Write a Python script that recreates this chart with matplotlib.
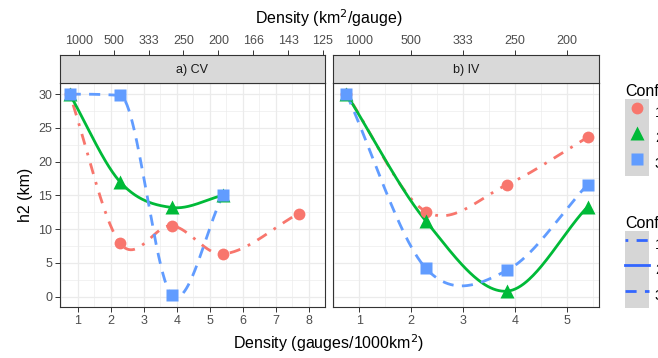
import matplotlib
matplotlib.use("Agg")
import matplotlib.pyplot as plt
import numpy as np
from matplotlib.lines import Line2D
from matplotlib.patches import Rectangle
from matplotlib.legend_handler import HandlerTuple

plt.rcParams['font.family'] = ['Liberation Sans', 'DejaVu Sans']

# densities (gauges/1000km2)
density = [0.75, 2.28, 3.85, 5.40, 7.70]

# a) CV
cv_conf1 = [30.0, 7.9, 10.5, 6.3, 12.3]
cv_conf2 = [30.0, 17.0, 13.2, 15.0]
cv_conf3 = [30.0, 29.8, 0.2, 15.0]

# b) IV
iv_conf1 = [30.0, 12.6, 16.6, 23.6]
iv_conf2 = [30.0, 11.2, 0.8, 13.3]
iv_conf3 = [30.0, 4.2, 3.9, 16.6]

top_labels = ['1000', '500', '333', '250', '200', '166', '143', '125']
conf_names = ['1', '2', '3']

colors = ['#F8766D', '#00BA38', '#619CFF']
markers = ['o', '^', 's']
msizes = [8.5, 10, 9]
lstyles = [(0, (1, 3, 4, 3)), '-', (0, (4, 3))]
W, H = 658, 358


def smooth(x, y, n=60):
    # cubic hermite through the points, catmull-rom style tangents
    x = np.asarray(x, float)
    y = np.asarray(y, float)
    k = len(x)
    d = np.diff(y) / np.diff(x)
    m = np.empty(k)
    m[0], m[-1] = d[0], d[-1]
    for i in range(1, k - 1):
        m[i] = (y[i + 1] - y[i - 1]) / (x[i + 1] - x[i - 1])
    for i in range(k - 1):
        if d[i] == 0:
            continue
        a, b = m[i] / d[i], m[i + 1] / d[i]
        if a > 0 and b > 0 and a * a + b * b > 9:
            t = 3 / np.sqrt(a * a + b * b)
            m[i], m[i + 1] = t * a * d[i], t * b * d[i]
    xs, ys = [], []
    for i in range(k - 1):
        h = x[i + 1] - x[i]
        t = np.linspace(0, 1, n)
        h00 = 2 * t**3 - 3 * t**2 + 1
        h10 = t**3 - 2 * t**2 + t
        h01 = -2 * t**3 + 3 * t**2
        h11 = t**3 - t**2
        xs.append(x[i] + t * h)
        ys.append(h00 * y[i] + h10 * h * m[i] + h01 * y[i + 1] + h11 * h * m[i + 1])
    return np.concatenate(xs), np.concatenate(ys)


def px(l, t, r, b):
    return [l / W, 1 - b / H, (r - l) / W, (b - t) / H]


def panel(rect, strip_rect, series, xlim, nticks, title):
    ax = fig.add_axes(px(*rect))
    st = fig.add_axes(px(*strip_rect))
    ax.set_xlim(*xlim)
    ax.set_ylim(-1.55, 31.65)
    ax.set_xticks(range(1, nticks + 1))
    ax.set_xticks(np.arange(0.5, nticks + 1, 1.0), minor=True)
    ax.set_yticks(range(0, 31, 5))
    ax.set_yticks(np.arange(2.5, 31, 5), minor=True)
    ax.grid(which='major', color='#EBEBEB', lw=0.9)
    ax.grid(which='minor', color='#EBEBEB', lw=0.45)
    ax.set_axisbelow(True)
    ax.tick_params(which='major', length=3.5, width=0.7, color='#333333',
                   labelsize=9, labelcolor='#4D4D4D', pad=2)
    ax.tick_params(which='minor', length=0)
    for s in ax.spines.values():
        s.set_color('#333333')
        s.set_linewidth(0.8)
    for j, yv in enumerate(series):
        xs, ys = smooth(density[:len(yv)], yv)
        ax.plot(xs, ys, color=colors[j], lw=2.0, ls=lstyles[j],
                solid_capstyle='butt', dash_capstyle='butt', zorder=2)
    for j, yv in enumerate(series):
        ax.plot(density[:len(yv)], yv, ls='none', marker=markers[j],
                ms=msizes[j], color=colors[j], mec='none', zorder=3)

    st.set_xlim(*xlim)
    st.set_ylim(0, 1)
    st.set_facecolor('#D9D9D9')
    st.xaxis.tick_top()
    st.set_xticks(range(1, nticks + 1), top_labels[:nticks])
    st.set_yticks([])
    st.tick_params(axis='x', length=3.5, width=0.7, color='#333333',
                   labelsize=9, labelcolor='#4D4D4D', pad=2)
    for s in st.spines.values():
        s.set_color('#333333')
        s.set_linewidth(0.8)
    st.text(0.5, 0.45, title, transform=st.transAxes, ha='center', va='center',
            fontsize=9, color='#1A1A1A')
    return ax


fig = plt.figure(figsize=(W / 100, H / 100), dpi=100)

ax_a = panel((60, 83, 325, 307), (60, 55, 325, 83),
             [cv_conf1, cv_conf2, cv_conf3], (0.457, 8.06), 8, 'a) CV')
ax_b = panel((333, 83, 599, 307), (333, 55, 599, 83),
             [iv_conf1, iv_conf2, iv_conf3], (0.49, 5.62), 5, 'b) IV')
ax_b.set_yticklabels([])
ax_b.tick_params(axis='y', length=0)

ax_a.set_ylabel('h2 (km)', fontsize=11.5, color='black', labelpad=4)
fig.text(329 / W, 1 - 343 / H, 'Density (gauges/1000km$^2$)', ha='center',
         va='center', fontsize=11.5)
fig.text(329 / W, 1 - 18 / H, 'Density (km$^2$/gauge)', ha='center',
         va='center', fontsize=11.5)

# legends (cut off at the right edge, as in the original)
key_bg = '#D6D6D6'
h1 = [(Rectangle((0, 0), 1, 1, fc=key_bg, ec='none'),
       Line2D([], [], ls='none', marker=markers[j], ms=msizes[j],
              color=colors[j], mec='none')) for j in range(3)]
h2 = [(Rectangle((0, 0), 1, 1, fc=key_bg, ec='none'),
       Line2D([], [], ls=lstyles[j], lw=2.0, color='#3366FF'))
      for j in range(3)]
common = dict(frameon=False, borderpad=0, borderaxespad=0, labelspacing=0,
              handlelength=1.55, handleheight=2.2, handletextpad=0.4,
              fontsize=11, title_fontsize=11.5, alignment='left',
              handler_map={tuple: HandlerTuple(ndivide=1, pad=0)})
leg1 = fig.legend(h1, conf_names, title='Config', loc='upper left',
                  bbox_to_anchor=(625 / W, 1 - 84 / H), **common)
leg2 = fig.legend(h2, conf_names, title='Configuration', loc='upper left',
                  bbox_to_anchor=(625 / W, 1 - 216 / H), **common)

fig.savefig('out.png', dpi=100)
